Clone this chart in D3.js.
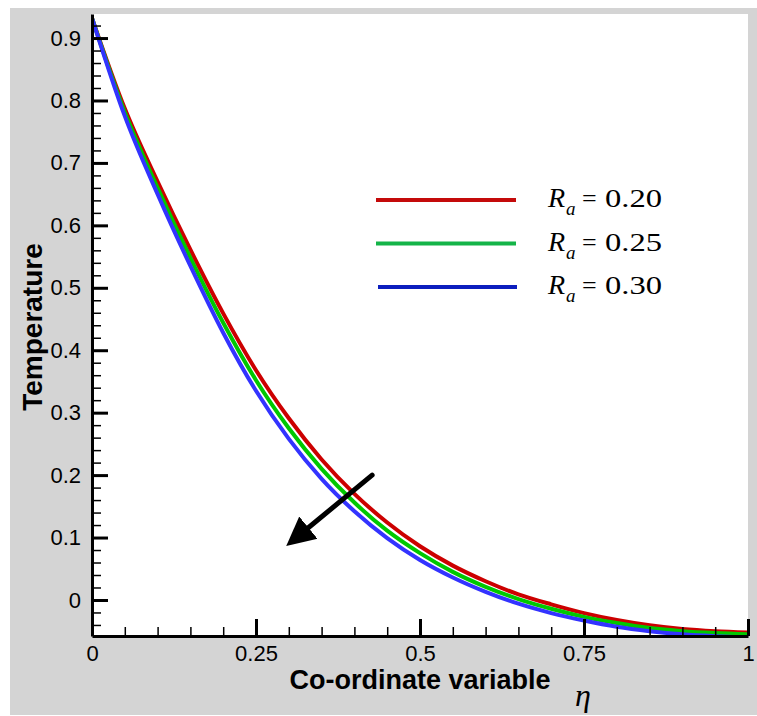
<!DOCTYPE html>
<html>
<head>
<meta charset="utf-8">
<script src="https://cdn.jsdelivr.net/npm/d3@7"></script>
<style>
  body { margin: 0; background: #fff; }
  svg { display: block; }
</style>
</head>
<body>
<div id="container"></div>
<script>
// Data
var eta = [0, 0.05, 0.1, 0.15, 0.2, 0.25, 0.3, 0.35, 0.4, 0.45, 0.5,
           0.55, 0.6, 0.65, 0.7, 0.75, 0.8, 0.85, 0.9, 0.95, 1];
var ra20 = [0.932, 0.787, 0.670, 0.561, 0.459, 0.368, 0.291, 0.225, 0.170, 0.124, 0.086,
            0.055, 0.030, 0.009, -0.007, -0.021, -0.032, -0.0405, -0.0465, -0.050, -0.052];
var ra25 = [0.932, 0.781, 0.660, 0.548, 0.444, 0.352, 0.275, 0.210, 0.156, 0.111, 0.075,
            0.045, 0.021, 0.0015, -0.014, -0.027, -0.037, -0.045, -0.050, -0.053, -0.055];
var ra30 = [0.932, 0.775, 0.650, 0.535, 0.428, 0.335, 0.258, 0.194, 0.142, 0.099, 0.064,
            0.036, 0.013, -0.006, -0.021, -0.033, -0.043, -0.050, -0.055, -0.058, -0.060];

var seriesLabels = ['0.20', '0.25', '0.30'];
var seriesColors = ['#cc0000', '#00c800', '#3333ff'];
var legendColors = ['#c40a0a', '#14b448', '#0c1ebe'];

var xTicks = [0, 0.25, 0.5, 0.75, 1];
var xTickLabels = ['0', '0.25', '0.5', '0.75', '1'];
var yTicks = [0, 0.1, 0.2, 0.3, 0.4, 0.5, 0.6, 0.7, 0.8, 0.9];
var yTickLabels = ['0', '0.1', '0.2', '0.3', '0.4', '0.5', '0.6', '0.7', '0.8', '0.9'];

// Arrow annotation (data coords)
var arrowFrom = [0.427, 0.200];
var arrowTo = [0.299, 0.089];

// Size variables
var width = 757;
var height = 716;
var plot = { left: 92, top: 14, right: 748, bottom: 636 };

var sansFont = '"Liberation Sans", Arial, Helvetica, sans-serif';
var serifFont = '"Liberation Serif", "Times New Roman", serif';

// Scales
var xScale = d3.scaleLinear()
  .domain([0, 1])
  .range([plot.left, plot.right]);

var yScale = d3.scaleLinear()
  .domain([-0.0577, 0.9385])
  .range([plot.bottom, plot.top]);

var svg = d3.select('#container')
  .append('svg')
  .attr('width', width)
  .attr('height', height);

// Grey frame and white plot area
svg.append('rect')
  .attr('x', 10).attr('y', 8)
  .attr('width', width - 10).attr('height', height - 9)
  .attr('fill', '#d4d4d4');

svg.append('rect')
  .attr('x', plot.left).attr('y', plot.top)
  .attr('width', plot.right - plot.left).attr('height', plot.bottom - plot.top)
  .attr('fill', '#fff');

svg.append('clipPath')
  .attr('id', 'plotClip')
  .append('rect')
  .attr('x', plot.left).attr('y', plot.top)
  .attr('width', plot.right - plot.left).attr('height', plot.bottom - plot.top);

// Curves
var series = [ra20, ra25, ra30];

var line = d3.line()
  .x((d) => xScale(d[0]))
  .y((d) => yScale(d[1]))
  .curve(d3.curveMonotoneX);

svg.append('g')
  .attr('clip-path', 'url(#plotClip)')
  .selectAll('.curve')
  .data(series)
  .enter().append('path')
  .attr('class', 'curve')
  .attr('fill', 'none')
  .attr('stroke', (d, i) => seriesColors[i])
  .attr('stroke-width', 4)
  .attr('d', (d) => line(eta.map((e, j) => [e, d[j]])));

// Minor ticks
var xMinor = d3.range(0.05, 1, 0.05).filter((v) => Math.abs(v * 4 - Math.round(v * 4)) > 1e-6);
var yMinor = d3.range(-0.04, 0.93, 0.02).filter((v) => Math.abs(v * 10 - Math.round(v * 10)) > 1e-6);

var xMinorAxis = d3.axisBottom(xScale).tickValues(xMinor).tickSize(-9).tickFormat('');
var yMinorAxis = d3.axisLeft(yScale).tickValues(yMinor).tickSize(-9).tickFormat('');

svg.append('g')
  .attr('transform', `translate(0, ${plot.bottom})`)
  .call(xMinorAxis)
  .call((g) => g.select('.domain').remove())
  .selectAll('line').attr('stroke-width', 1.5);

svg.append('g')
  .attr('transform', `translate(${plot.left}, 0)`)
  .call(yMinorAxis)
  .call((g) => g.select('.domain').remove())
  .selectAll('line').attr('stroke-width', 1.5);

// Major axes
var xAxis = d3.axisBottom(xScale)
  .tickValues(xTicks)
  .tickSize(-17)
  .tickSizeOuter(0)
  .tickPadding(9)
  .tickFormat((d, i) => xTickLabels[i]);

var yAxis = d3.axisLeft(yScale)
  .tickValues(yTicks)
  .tickSize(-16)
  .tickSizeOuter(0)
  .tickPadding(11)
  .tickFormat((d, i) => yTickLabels[i]);

var gx = svg.append('g')
  .attr('id', 'x-axis')
  .attr('transform', `translate(0, ${plot.bottom})`)
  .call(xAxis);

var gy = svg.append('g')
  .attr('id', 'y-axis')
  .attr('transform', `translate(${plot.left}, 0)`)
  .call(yAxis);

[gx, gy].forEach((g) => {
  g.attr('font-family', sansFont).attr('font-size', 22);
  g.select('.domain').attr('stroke-width', 3);
  g.selectAll('.tick line').attr('stroke-width', 3);
  g.selectAll('.tick text').attr('fill', '#000');
});

// Axis labels
svg.append('text')
  .attr('transform', 'rotate(-90)')
  .attr('x', -327)
  .attr('y', 42)
  .attr('text-anchor', 'middle')
  .style('font-family', sansFont)
  .style('font-weight', 'bold')
  .style('font-size', '28px')
  .text('Temperature');

svg.append('text')
  .attr('x', 420)
  .attr('y', 689)
  .attr('text-anchor', 'middle')
  .style('font-family', sansFont)
  .style('font-weight', 'bold')
  .style('font-size', '27px')
  .text('Co-ordinate variable');

svg.append('text')
  .attr('x', 575)
  .attr('y', 706)
  .style('font-family', serifFont)
  .style('font-style', 'italic')
  .style('font-size', '32px')
  .text('η');

// Arrow
var defs = svg.append('defs');
defs.append('marker')
  .attr('id', 'arrowHead')
  .attr('markerUnits', 'userSpaceOnUse')
  .attr('markerWidth', 30)
  .attr('markerHeight', 30)
  .attr('viewBox', '0 -12 24 24')
  .attr('refX', 13)
  .attr('refY', 0)
  .attr('orient', 'auto')
  .append('path')
  .attr('d', 'M0,-11.5L23,0L0,11.5Z')
  .attr('fill', '#000');

var ax0 = xScale(arrowFrom[0]), ay0 = yScale(arrowFrom[1]);
var ax1 = xScale(arrowTo[0]), ay1 = yScale(arrowTo[1]);
var alen = Math.hypot(ax1 - ax0, ay1 - ay0);
var shorten = 10;

svg.append('line')
  .attr('x1', ax0).attr('y1', ay0)
  .attr('x2', ax1 - (ax1 - ax0) / alen * shorten)
  .attr('y2', ay1 - (ay1 - ay0) / alen * shorten)
  .attr('stroke', '#000')
  .attr('stroke-width', 5)
  .attr('stroke-linecap', 'round')
  .attr('marker-end', 'url(#arrowHead)');

// Legend
var legend = svg.selectAll('.legend')
  .data(seriesLabels)
  .enter().append('g')
  .attr('class', 'legend')
  .attr('transform', (d, i) => `translate(0, ${200 + i * 43.5})`);

legend.append('line')
  .attr('x1', (d, i) => i === 2 ? 378 : 376)
  .attr('x2', (d, i) => i === 2 ? 517 : 516)
  .attr('y1', 0).attr('y2', 0)
  .attr('stroke', (d, i) => legendColors[i])
  .attr('stroke-width', 4);

legend.append('text')
  .attr('x', 548)
  .attr('y', 7)
  .style('font-family', serifFont)
  .style('font-style', 'italic')
  .style('font-size', '28px')
  .text('R');

legend.append('text')
  .attr('x', 566)
  .attr('y', 15)
  .style('font-family', serifFont)
  .style('font-style', 'italic')
  .style('font-size', '19px')
  .text('a');

legend.append('text')
  .attr('x', 582)
  .attr('y', 7)
  .style('font-family', serifFont)
  .style('font-size', '26px')
  .text('=');

legend.append('text')
  .attr('x', 605)
  .attr('y', 7)
  .attr('textLength', 57)
  .attr('lengthAdjust', 'spacingAndGlyphs')
  .style('font-family', serifFont)
  .style('font-size', '25px')
  .text((d) => d);
</script>
</body>
</html>
